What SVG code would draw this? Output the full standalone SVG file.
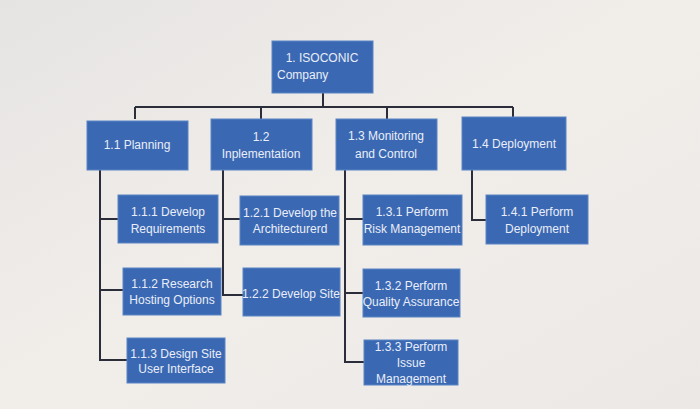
<svg xmlns="http://www.w3.org/2000/svg" width="700" height="409" viewBox="0 0 700 409">
<defs>
<linearGradient id="bg" x1="0" y1="0" x2="1" y2="1">
<stop offset="0" stop-color="#e6e4e3"/>
<stop offset="0.5" stop-color="#f1eeea"/>
<stop offset="1" stop-color="#ebe8e6"/>
</linearGradient>
<style>
.box{fill:#3b68b2;stroke:#5a84c4;stroke-width:1}
.t{font-family:"Liberation Sans",Arial,sans-serif;font-size:12px;fill:#e9eef8;text-anchor:middle}
.c{fill:none;stroke:#2b2d3a;stroke-width:2}
</style>
</defs>
<rect width="700" height="409" fill="url(#bg)"/>
<g id="connectors">
<path class="c" d="M323 93V107M135 107H513M135 107V119M261 107V119M387 107V119M513 107V117"/>
<path class="c" d="M100 170V360H127M100 219H118M100 290H123"/>
<path class="c" d="M223 170V295H243M223 219H240"/>
<path class="c" d="M345 170V362H364M345 219H363M345 293H363"/>
<path class="c" d="M472 170V220H486"/>
</g>
<g id="n1"><rect class="box" x="272" y="41" width="101" height="52"/><text class="t" x="322" y="62">1. ISOCONIC</text><text class="t" x="277" y="79" style="text-anchor:start">Company</text></g>
<g id="n1_1"><rect class="box" x="87" y="121" width="101" height="49"/><text class="t" x="137" y="149">1.1 Planning</text></g>
<g id="n1_2"><rect class="box" x="211" y="119" width="101" height="51"/><text class="t" x="261" y="141">1.2</text><text class="t" x="261" y="158">Inplementation</text></g>
<g id="n1_3"><rect class="box" x="336" y="119" width="101" height="51"/><text class="t" x="386" y="140">1.3 Monitoring</text><text class="t" x="386" y="158">and Control</text></g>
<g id="n1_4"><rect class="box" x="462" y="117" width="104" height="53"/><text class="t" x="514" y="148">1.4 Deployment</text></g>
<g id="n1_1_1"><rect class="box" x="118" y="195" width="100" height="48"/><text class="t" x="168" y="216">1.1.1 Develop</text><text class="t" x="168" y="233">Requirements</text></g>
<g id="n1_1_2"><rect class="box" x="123" y="268" width="98" height="47"/><text class="t" x="172" y="288">1.1.2 Research</text><text class="t" x="172" y="304">Hosting Options</text></g>
<g id="n1_1_3"><rect class="box" x="127" y="338" width="98" height="45"/><text class="t" x="176" y="358">1.1.3 Design Site</text><text class="t" x="176" y="373">User Interface</text></g>
<g id="n1_2_1"><rect class="box" x="240" y="196" width="99" height="49"/><text class="t" x="290" y="217">1.2.1 Develop the</text><text class="t" x="290" y="233">Architecturerd</text></g>
<g id="n1_2_2"><rect class="box" x="243" y="268" width="97" height="48"/><text class="t" x="291" y="298">1.2.2 Develop Site</text></g>
<g id="n1_3_1"><rect class="box" x="363" y="195" width="99" height="50"/><text class="t" x="412" y="216">1.3.1 Perform</text><text class="t" x="412" y="233">Risk Management</text></g>
<g id="n1_3_2"><rect class="box" x="363" y="269" width="97" height="48"/><text class="t" x="411" y="290">1.3.2 Perform</text><text class="t" x="411" y="306">Quality Assurance</text></g>
<g id="n1_3_3"><rect class="box" x="364" y="340" width="94" height="45"/><text class="t" x="411" y="351">1.3.3 Perform</text><text class="t" x="411" y="367">Issue</text><text class="t" x="411" y="383">Management</text></g>
<g id="n1_4_1"><rect class="box" x="486" y="195" width="102" height="49"/><text class="t" x="537" y="216">1.4.1 Perform</text><text class="t" x="537" y="233">Deployment</text></g>
</svg>
